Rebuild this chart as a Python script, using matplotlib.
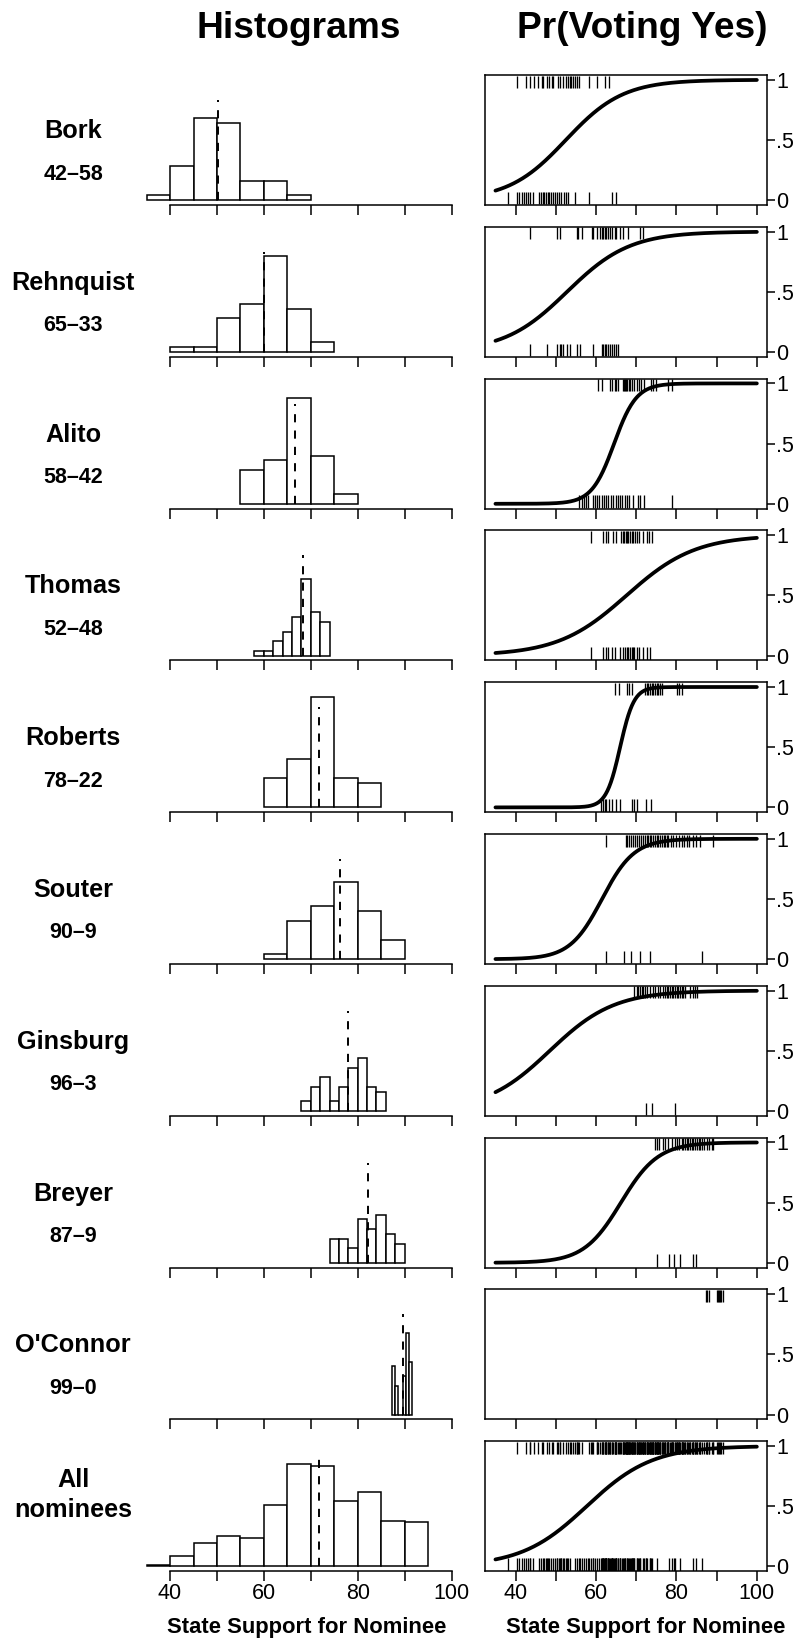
import numpy as np
import matplotlib
matplotlib.use("Agg")
import matplotlib.pyplot as plt

plt.rcParams['font.family'] = ['Liberation Sans', 'DejaVu Sans']

# ---------------- data ----------------
names = ["Bork", "Rehnquist", "Alito", "Thomas", "Roberts", "Souter",
         "Ginsburg", "Breyer", "O'Connor", "All\nnominees"]
votes = ["42\u201358", "65\u201333", "58\u201342", "52\u201348", "78\u201322",
         "90\u20139", "96\u20133", "87\u20139", "99\u20130", ""]

# histogram bins: first edge, bin width, counts
hist_start = [35, 40, 55, 58, 60, 60, 68, 74, 87.3, 35]
hist_width = [5, 5, 5, 2, 5, 5, 2, 2, 0.6, 5]
hist_counts = [
    [1, 7, 17, 16, 4, 4, 1],
    [1, 1, 7, 10, 20, 9, 2],
    [7, 9, 22, 10, 2],
    [1, 1, 3, 5, 8, 16, 9, 7],
    [6, 10, 23, 6, 5],
    [1, 8, 11, 16, 10, 4],
    [2, 5, 7, 2, 5, 9, 11, 5, 4],
    [5, 5, 3, 9, 7, 10, 6, 4],
    [10, 6, 0, 0, 8, 17, 11],
    [1, 8, 18, 23, 22, 47, 78, 77, 50, 57, 35, 34],
]
hist_ymax = [25, 25, 25, 25, 25, 25, 25, 25, 25, 92]
mean_support = [50.3, 60.1, 66.65, 68.4, 71.8, 76.2, 78.0, 82.15, 89.7, 71.7]
mean_line_top = [20.8, 20.8, 20.8, 20.8, 20.8, 20.8, 20.8, 20.8, 20.8, 87.6]

# fitted logistic curves: midpoint and slope (None = no curve)
curve_mid = [52.5, 52.8, 64.5, 67.6, 66.0, 61.5, 48.5, 66.2, None, 57.7]
curve_slope = [0.14, 0.128, 0.36, 0.117, 0.58, 0.25, 0.125, 0.216, None, 0.123]

# rug values: state support of senators voting yes / no
bork_yes = [40.4, 42.7, 43.6, 44.6, 45.6, 46.5, 46.9, 47.7, 48.4, 49.0, 49.4, 50.6,
            51.0, 51.9, 52.5, 53.1, 53.5, 53.9, 54.3, 54.8, 55.2, 55.8, 58.3, 60.3,
            62.2, 63.3]
bork_no = [38.2, 40.4, 40.9, 41.5, 42.1, 42.6, 43.1, 43.7, 44.4, 45.9, 46.3, 46.7,
           47.1, 47.5, 48.0, 48.4, 48.7, 49.2, 49.8, 50.4, 50.9, 51.4, 52.0, 52.5,
           53.1, 54.8, 58.3, 63.9, 65.1]
rehnquist_yes = [43.6, 50.2, 51.0, 55.2, 55.6, 56.4, 58.9, 59.3, 60.2, 61.0, 61.4,
                 61.8, 62.2, 62.6, 63.1, 63.5, 64.1, 64.7, 65.1, 66.0, 66.8, 68.0,
                 71.0, 71.8]
rehnquist_no = [43.6, 47.9, 50.2, 51.0, 51.4, 51.9, 52.7, 53.5, 55.2, 56.0, 59.2,
                61.4, 61.8, 62.2, 62.6, 63.1, 63.5, 63.9, 64.5, 65.1, 65.5]
alito_yes = [60.6, 61.4, 63.5, 64.1, 64.7, 65.1, 65.5, 66.6, 66.9, 67.2, 67.5, 67.8,
             68.1, 68.5, 68.9, 69.5, 70.1, 70.7, 71.3, 71.9, 73.8, 74.3, 74.9, 77.8,
             79.0]
alito_no = [55.8, 56.4, 57.0, 57.5, 57.9, 59.3, 59.8, 60.3, 60.8, 61.4, 62.0, 62.5,
            63.1, 63.7, 64.3, 64.9, 65.5, 66.0, 66.5, 67.2, 67.8, 68.2, 69.1, 70.5,
            70.9, 71.9, 79.0]
thomas_yes = [58.7, 61.8, 62.5, 63.1, 64.3, 64.9, 66.2, 66.6, 67.0, 67.4, 67.7, 68.0,
              68.5, 68.9, 69.3, 69.7, 70.1, 70.8, 71.6, 72.6, 73.3, 73.9]
thomas_no = [58.7, 61.8, 62.5, 63.1, 63.9, 64.7, 66.0, 66.6, 67.2, 67.6, 68.0, 68.5,
             68.9, 69.3, 69.5, 70.1, 70.8, 71.8, 72.6, 73.4]
roberts_yes = [64.7, 65.8, 67.6, 68.3, 68.9, 72.2, 72.6, 73.0, 73.4, 73.9, 74.3, 74.7,
               75.1, 75.5, 75.9, 76.3, 80.1, 80.6, 81.3]
roberts_no = [61.2, 61.7, 62.2, 62.6, 63.3, 64.1, 65.1, 66.0, 68.9, 69.5, 70.1, 72.4,
              73.6]
souter_yes = [62.5, 67.5, 67.8, 68.1, 68.6, 69.1, 69.7, 70.1, 70.6, 71.1, 71.6, 72.1,
              72.6, 73.0, 73.4, 73.8, 74.3, 74.7, 75.1, 75.5, 75.9, 76.3, 76.8, 77.2,
              77.6, 78.0, 78.6, 79.2, 79.9, 80.6, 81.3, 81.9, 82.6, 83.2, 84.2, 84.9,
              85.9, 89.2]
souter_no = [62.5, 67.0, 68.6, 71.0, 73.4, 86.3]
ginsburg_yes = [69.5, 70.1, 70.5, 70.9, 71.4, 71.8, 72.2, 72.8, 73.4, 74.1, 74.7, 75.3,
                75.9, 76.6, 77.2, 77.6, 78.0, 78.4, 78.8, 79.2, 79.7, 80.1, 80.5, 80.9,
                81.3, 81.7, 82.1, 83.4, 84.1, 84.6, 85.2]
ginsburg_no = [72.4, 73.9, 79.7]
breyer_yes = [74.7, 75.1, 75.7, 76.6, 77.2, 78.0, 78.8, 79.7, 80.2, 80.7, 81.3, 81.7,
              82.1, 82.6, 83.0, 83.4, 83.8, 84.2, 84.6, 85.0, 85.5, 85.9, 86.3, 86.9,
              87.5, 88.2, 88.8, 89.2]
breyer_no = [75.1, 78.2, 79.4, 80.9, 84.1, 84.9]
oconnor_yes = [87.3, 87.7, 88.2, 90.0, 90.3, 90.6, 90.9, 91.2, 91.5]
oconnor_no = []

yes_rugs = [bork_yes, rehnquist_yes, alito_yes, thomas_yes, roberts_yes, souter_yes,
            ginsburg_yes, breyer_yes, oconnor_yes]
no_rugs = [bork_no, rehnquist_no, alito_no, thomas_no, roberts_no, souter_no,
           ginsburg_no, breyer_no, oconnor_no]
# "All nominees" pools every nominee
yes_rugs.append(sorted(v for r in yes_rugs for v in r))
no_rugs.append(sorted(v for r in no_rugs for v in r))

# ---------------- layout ----------------
W, H = 801, 1643
fig = plt.figure(figsize=(W / 100, H / 100), dpi=100)

XLIM = (32.4, 102.6)
xt = list(range(40, 101, 10))
xtl = ["40", "", "60", "", "80", "", "100"]

ROW_TOP0, ROW_H, ROW_STEP = 75, 130, 151.8
HL, HR = 134.4, 463.7
PL, PR = 485.0, 767.3

nrows = len(names)
for i in range(nrows):
    top = ROW_TOP0 + i * ROW_STEP
    bot = top + ROW_H
    last = (i == nrows - 1)

    # ---- histogram ----
    ah = fig.add_axes([HL / W, 1 - bot / H, (HR - HL) / W, ROW_H / H])
    counts = hist_counts[i]
    edges = hist_start[i] + hist_width[i] * np.arange(len(counts) + 1)
    ah.bar(edges[:-1], counts, width=hist_width[i], align='edge', color='white',
           edgecolor='black', linewidth=1.1, zorder=2)
    ah.vlines(mean_support[i], 0, mean_line_top[i], colors='black', linewidth=1.4,
              linestyles=(0, (4.2, 4.2)), zorder=3)
    ym = hist_ymax[i]
    ah.set_xlim(XLIM)
    ah.set_ylim(-0.04 * ym, 1.04 * ym)
    for s in ['top', 'left', 'right']:
        ah.spines[s].set_visible(False)
    ah.spines['bottom'].set_bounds(40, 100)
    ah.spines['bottom'].set_linewidth(1.1)
    ah.set_yticks([])
    ah.set_xticks(xt)
    ah.set_xticklabels(xtl if last else [""] * len(xt))
    ah.tick_params(axis='x', direction='out', length=7.3, width=1.1,
                   labelsize=15.5, pad=1)
    ah.patch.set_alpha(0)

    # ---- probability panel ----
    ap = fig.add_axes([PL / W, 1 - bot / H, (PR - PL) / W, ROW_H / H])
    if curve_mid[i] is not None:
        xs = np.linspace(35, 100, 300)
        ps = 1.0 / (1.0 + np.exp(-curve_slope[i] * (xs - curve_mid[i])))
        ap.plot(xs, ps, color='black', linewidth=2.7, solid_capstyle='round', zorder=3)
    if len(yes_rugs[i]):
        ap.vlines(yes_rugs[i], 0.935, 1.035, colors='black', linewidth=0.95)
    if len(no_rugs[i]):
        ap.vlines(no_rugs[i], -0.035, 0.07, colors='black', linewidth=0.95)
    ap.set_xlim(XLIM)
    ap.set_ylim(-0.04, 1.04)
    for s in ap.spines.values():
        s.set_linewidth(1.1)
    ap.yaxis.tick_right()
    ap.set_yticks([0, 0.5, 1])
    ap.set_yticklabels(["0", ".5", "1"])
    ap.set_xticks(xt)
    ap.set_xticklabels(xtl if last else [""] * len(xt))
    ap.tick_params(axis='y', direction='out', length=5.5, width=1.1,
                   labelsize=15.5, pad=1)
    ap.tick_params(axis='x', direction='out', length=7.3, width=1.1,
                   labelsize=15.5, pad=1)

    # ---- row labels ----
    if votes[i]:
        fig.text(73 / W, 1 - (top + 56) / H, names[i], ha='center', va='center',
                 fontsize=18.2, fontweight='bold')
        fig.text(73 / W, 1 - (top + 99) / H, votes[i], ha='center', va='center',
                 fontsize=15.5, fontweight='bold')
    else:
        fig.text(73 / W, 1 - (top + 54) / H, names[i], ha='center', va='center',
                 fontsize=18.2, fontweight='bold', linespacing=1.3)

# titles and axis labels
fig.text(299 / W, 1 - 28 / H, "Histograms", ha='center', va='center',
         fontsize=26.7, fontweight='bold')
fig.text(642 / W, 1 - 28 / H, "Pr(Voting Yes)", ha='center', va='center',
         fontsize=26.7, fontweight='bold')
fig.text(307 / W, 1 - 1627 / H, "State Support for Nominee", ha='center',
         va='center', fontsize=15.8, fontweight='bold')
fig.text(646 / W, 1 - 1627 / H, "State Support for Nominee", ha='center',
         va='center', fontsize=15.8, fontweight='bold')

fig.savefig("out.png", dpi=100, facecolor='white')
